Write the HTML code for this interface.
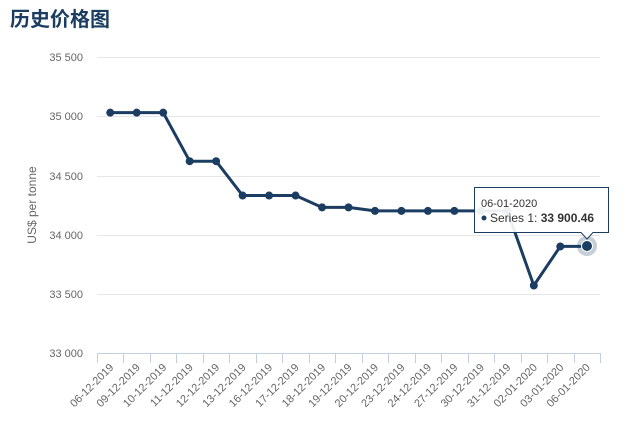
<!DOCTYPE html>
<html><head><meta charset="utf-8"><style>
body{margin:0;background:#fff;width:636px;height:419px;overflow:hidden}
</style></head><body>
<svg width="636" height="419" xmlns="http://www.w3.org/2000/svg" font-family="Liberation Sans, sans-serif">
<text x="10" y="26" font-size="20" font-weight="bold" fill="#1b3d61" font-family="Liberation Sans, Noto Sans CJK SC, sans-serif">历史价格图</text>
<g stroke="#e6e6e6" stroke-width="1">
<line x1="97" x2="600" y1="57.5" y2="57.5"/><line x1="97" x2="600" y1="116.5" y2="116.5"/>
<line x1="97" x2="600" y1="176.5" y2="176.5"/><line x1="97" x2="600" y1="235.5" y2="235.5"/>
<line x1="97" x2="600" y1="294.5" y2="294.5"/>
</g>
<line x1="97" x2="600" y1="353.5" y2="353.5" stroke="#c0d0e0"/>
<g stroke="#c0d0e0" id="ticks"></g>
<g font-size="11" fill="#666" text-anchor="end">
<text x="83" y="61">35 500</text><text x="83" y="120">35 000</text><text x="83" y="180">34 500</text>
<text x="83" y="239">34 000</text><text x="83" y="298">33 500</text><text x="83" y="357">33 000</text>
</g>
<text transform="translate(36,205) rotate(-90)" font-size="12" fill="#666" text-anchor="middle">US$ per tonne</text>
<g id="xl" font-size="11" fill="#666" text-anchor="end"></g>
<polyline id="ln" fill="none" stroke="#1b3d61" stroke-width="3" stroke-linejoin="round"/>
<g id="pts" fill="#1b3d61"></g>
<circle cx="587" cy="246" r="10" fill="#1b3d61" fill-opacity="0.25"/>
<circle cx="587" cy="246" r="5.5" fill="#1b3d61" stroke="#fff" stroke-width="1"/>
<path d="M474.5,187.5 H608.5 V232.5 H593 L587,239 L581,232.5 H474.5 Z" fill="#fff" fill-opacity="0.92" stroke="#1b3d61" stroke-width="1"/>
<text x="481" y="207" font-size="11" fill="#333">06-01-2020</text>
<circle cx="484" cy="218" r="2.5" fill="#1b3d61"/>
<text x="490" y="222" font-size="12" fill="#333">Series 1: <tspan font-weight="bold">33 900.46</tspan></text>
<script>
var labels=["06-12-2019","09-12-2019","10-12-2019","11-12-2019","12-12-2019","13-12-2019","16-12-2019","17-12-2019","18-12-2019","19-12-2019","20-12-2019","23-12-2019","24-12-2019","27-12-2019","30-12-2019","31-12-2019","02-01-2020","03-01-2020","06-01-2020"];
var vals=[35030,35030,35030,34620,34620,34330,34330,34330,34230,34230,34200,34200,34200,34200,34200,34200,33570,33900,33900.46];
var ns="http://www.w3.org/2000/svg",w=503/19,pts=[];
var tk=document.getElementById("ticks"),xl=document.getElementById("xl"),pg=document.getElementById("pts");
for(var i=0;i<=19;i++){var l=document.createElementNS(ns,"line");var x=Math.round(97+i*w)+0.5;l.setAttribute("x1",x);l.setAttribute("x2",x);l.setAttribute("y1",353);l.setAttribute("y2",363);tk.appendChild(l);}
for(var i=0;i<19;i++){var x=97+w/2+i*w,y=353-(vals[i]-33000)*59.2/500;pts.push(x.toFixed(1)+","+y.toFixed(1));
var t=document.createElementNS(ns,"text");t.setAttribute("transform","translate("+(x+4)+",368) rotate(-45)");t.textContent=labels[i];xl.appendChild(t);
if(i<18){var c=document.createElementNS(ns,"circle");c.setAttribute("cx",x);c.setAttribute("cy",y);c.setAttribute("r",4);pg.appendChild(c);}}
document.getElementById("ln").setAttribute("points",pts.join(" "));
</script>
</svg>
</body></html>
